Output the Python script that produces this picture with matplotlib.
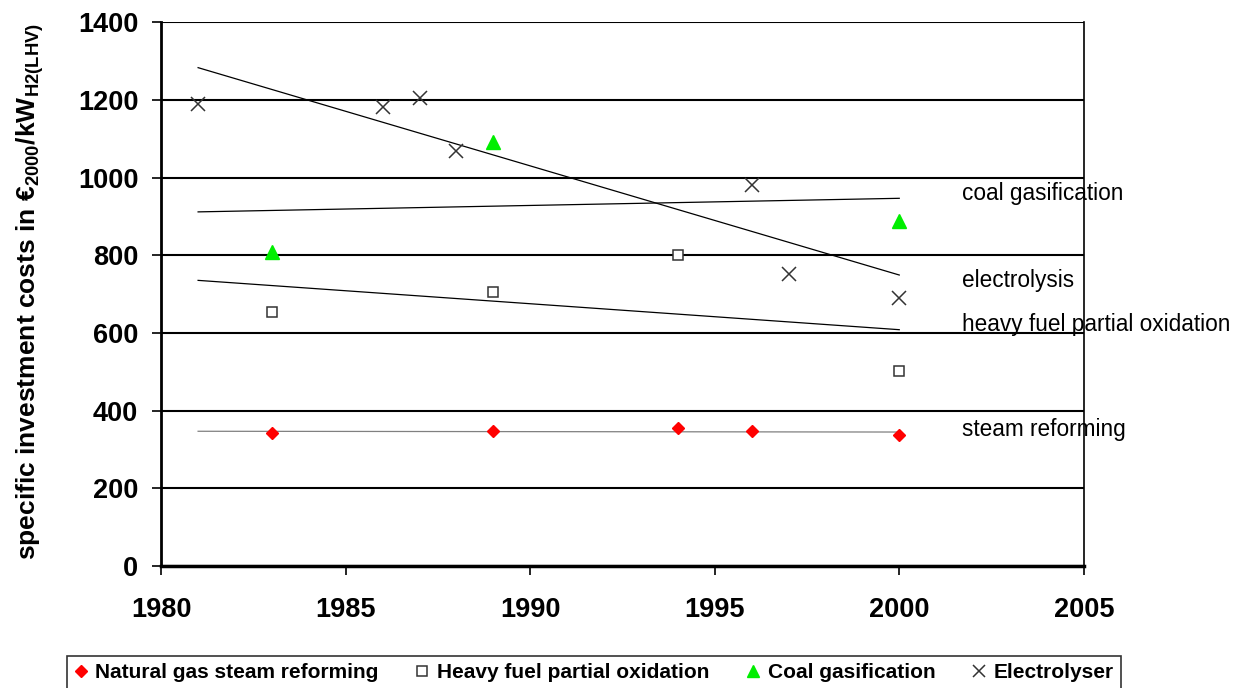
import numpy as np
import matplotlib.pyplot as plt
from matplotlib import font_manager

plt.rcParams['font.family'] = ['Liberation Sans', 'DejaVu Sans']

# the rotated axis title in the original is a narrow face
installed = {f.name for f in font_manager.fontManager.ttflist}
if 'Liberation Sans Narrow' in installed:
    label_font, label_size = 'Liberation Sans Narrow', 23.5
else:
    label_font, label_size = 'Liberation Sans', 19
plt.rcParams['mathtext.fontset'] = 'custom'
plt.rcParams['mathtext.rm'] = label_font + ':bold'
plt.rcParams['mathtext.bf'] = label_font + ':bold'

# data
ng_years = [1983, 1989, 1994, 1996, 2000]
ng_costs = [343, 347, 355, 347, 338]

hf_years = [1983, 1989, 1994, 2000]
hf_costs = [653, 706, 800, 502]

coal_years = [1983, 1989, 2000]
coal_costs = [808, 1092, 888]

el_years = [1981, 1986, 1987, 1988, 1996, 1997, 2000]
el_costs = [1190, 1182, 1205, 1068, 982, 752, 690]

# right-hand trend labels (text, y position)
trend_labels = ["coal gasification", "electrolysis", "heavy fuel partial oxidation", "steam reforming"]
trend_label_y = [958, 736, 621, 353]

fig = plt.figure(figsize=(12.4, 6.88), dpi=100)
ax = fig.add_axes([0.130, 0.177, 0.744, 0.791])

# linear trend lines over the whole period
x0 = min(ng_years + hf_years + coal_years + el_years)
x1 = max(ng_years + hf_years + coal_years + el_years)
xs = np.array([x0, x1])
for years, costs, col in [(ng_years, ng_costs, "#808080"),
                          (hf_years, hf_costs, "black"),
                          (coal_years, coal_costs, "black"),
                          (el_years, el_costs, "black")]:
    k, d = np.polyfit(years, costs, 1)
    ax.plot(xs, k * xs + d, color=col, lw=0.9, zorder=3)

ax.plot(ng_years, ng_costs, "D", color="red", ms=6.5, ls="none", zorder=4,
        label="Natural gas steam reforming")
ax.plot(hf_years, hf_costs, "s", mfc="white", mec="#333333", mew=1.1, ms=7.5, ls="none",
        zorder=4, label="Heavy fuel partial oxidation")
ax.plot(coal_years, coal_costs, "^", color="#00ee00", ms=9.5, ls="none", zorder=4,
        label="Coal gasification")
ax.plot(el_years, el_costs, "x", color="#333333", mew=1.1, ms=9.5, ls="none", zorder=4,
        label="Electrolyser")

for txt, yv in zip(trend_labels, trend_label_y):
    ax.text(2001.7, yv, txt, fontsize=16.3, ha="left", va="center", clip_on=False, zorder=5)

ax.set_xlim(1980, 2005)
ax.set_ylim(0, 1400)
ax.set_xticks(range(1980, 2006, 5))
ax.set_yticks(range(0, 1401, 200))
ax.yaxis.grid(True, color="black", lw=1.5)
ax.set_axisbelow(True)
ax.tick_params(direction="out", length=6.5, width=1.2, labelsize=19.5)
ax.tick_params(axis="y", pad=10)
ax.tick_params(axis="x", pad=16)
for lab in ax.get_xticklabels() + ax.get_yticklabels():
    lab.set_fontweight("bold")

ax.spines["top"].set_visible(False)
ax.spines["left"].set_linewidth(2)
ax.spines["bottom"].set_linewidth(2.5)
ax.spines["right"].set_linewidth(1.2)

ax.set_ylabel(r"specific investment costs in €$_{\mathrm{2000}}$/kW$_{\mathrm{H2(LHV)}}$",
              fontsize=label_size, fontweight="bold", family=[label_font, 'DejaVu Sans'])
ax.yaxis.set_label_coords(-0.1245, 0.504)

leg = fig.legend(loc="center", bbox_to_anchor=(0.479, 0.022), ncol=4,
                 prop={"weight": "bold", "size": 15}, frameon=True, fancybox=False,
                 edgecolor="black", handlelength=0.6, handletextpad=0.4,
                 columnspacing=1.8, borderpad=0.35, markerscale=0.9)
leg.get_frame().set_linewidth(1.2)

fig.savefig("out.png", dpi=100)
